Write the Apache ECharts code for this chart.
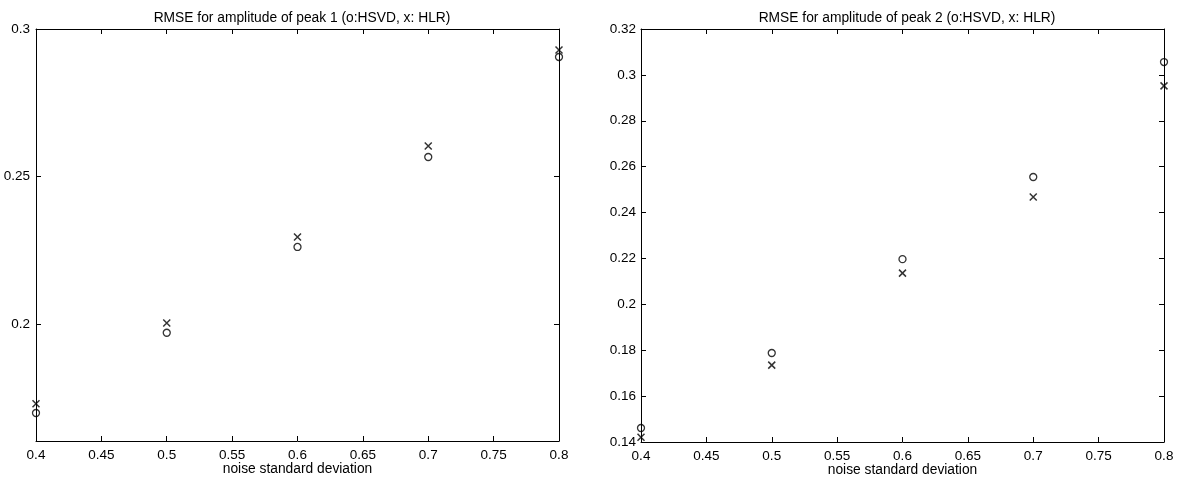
<!DOCTYPE html>
<html><head><meta charset="utf-8">
<script src="https://cdn.jsdelivr.net/npm/echarts@6/dist/echarts.min.js"></script>
<style>html,body{margin:0;padding:0;background:#fff}#c{width:1185px;height:478px}</style>
</head><body><div id="c"></div>
<script>
const noiseLevels = [0.4, 0.5, 0.6, 0.7, 0.8];
const peak1HSVD = [0.1698, 0.1970, 0.2261, 0.2566, 0.2905];
const peak1HLR  = [0.1729, 0.2003, 0.2295, 0.2603, 0.2929];
const peak2HSVD = [0.1461, 0.1788, 0.2197, 0.2555, 0.3056];
const peak2HLR  = [0.1421, 0.1735, 0.2136, 0.2468, 0.2952];
const xTicks = [0.4, 0.45, 0.5, 0.55, 0.6, 0.65, 0.7, 0.75, 0.8];
const yTicksLeft = [0.2, 0.25, 0.3];
const titles = ['RMSE for amplitude of peak 1 (o:HSVD, x: HLR)', 'RMSE for amplitude of peak 2 (o:HSVD, x: HLR)'];
const xName = 'noise standard deviation';

const FONT = 'Liberation Sans';
const lab = {color:'#000', fontFamily:FONT, fontSize:13.5};
const nameStyle = {color:'#000', fontFamily:FONT, fontSize:13.8};
const line = {show:true, lineStyle:{color:'#000', width:1}};
const tick = {show:true, inside:true, length:5, lineStyle:{color:'#000', width:1}};
const crossPath = 'path://M0,0L10,10M10,0L0,10';

function pairs(xs, ys){ return xs.map((x,i)=>[x, ys[i]]); }

function xAxes(gi){
  return [
    {gridIndex:gi, type:'value', min:0.4, max:0.8, interval:0.05, position:'bottom',
     axisLine:line, axisTick:Object.assign({customValues:xTicks}, tick), splitLine:{show:false},
     axisLabel:Object.assign({margin:7, customValues:xTicks, formatter:v=>String(+v.toFixed(2))}, lab),
     name:xName, nameLocation:'middle', nameGap:21, nameMoveOverlap:false, nameTextStyle:nameStyle},
    {gridIndex:gi, type:'value', min:0.4, max:0.8, interval:0.05, position:'top',
     axisLine:line, axisTick:Object.assign({customValues:xTicks}, tick), splitLine:{show:false}, axisLabel:{show:false}}
  ];
}

const circleStyle = {color:'transparent', borderColor:'#000', borderWidth:1.3};
const crossStyle = {color:'none', borderColor:'#000', borderWidth:1.5};

const option = {
  animation:false,
  backgroundColor:'#fff',
  title:[
    {text:titles[0], left:297, top:6, textAlign:'center', textStyle:{color:'#000', fontFamily:FONT, fontSize:13.8, fontWeight:'normal'}},
    {text:titles[1], left:902, top:6, textAlign:'center', textStyle:{color:'#000', fontFamily:FONT, fontSize:13.8, fontWeight:'normal'}}
  ],
  grid:[
    {left:36, right:626, top:29, bottom:37, containLabel:false, outerBoundsMode:'none'},
    {left:641, right:21, top:29, bottom:36, containLabel:false, outerBoundsMode:'none'}
  ],
  xAxis: xAxes(0).concat(xAxes(1)),
  yAxis:[
    {gridIndex:0, type:'value', min:0.1603, max:0.3, position:'left',
     axisLine:line, axisTick:Object.assign({customValues:yTicksLeft}, tick), splitLine:{show:false},
     axisLabel:Object.assign({customValues:yTicksLeft, margin:6}, lab)},
    {gridIndex:0, type:'value', min:0.1603, max:0.3, position:'right',
     axisLine:line, axisTick:Object.assign({customValues:yTicksLeft}, tick), splitLine:{show:false}, axisLabel:{show:false}},
    {gridIndex:1, type:'value', min:0.14, max:0.32, interval:0.02, position:'left',
     axisLine:line, axisTick:tick, splitLine:{show:false},
     axisLabel:Object.assign({margin:5, formatter:v=>String(+v.toFixed(2))}, lab)},
    {gridIndex:1, type:'value', min:0.14, max:0.32, interval:0.02, position:'right',
     axisLine:line, axisTick:tick, splitLine:{show:false}, axisLabel:{show:false}}
  ],
  series:[
    {type:'scatter', xAxisIndex:0, yAxisIndex:0, data:pairs(noiseLevels, peak1HSVD), symbol:'circle', symbolSize:7,
     itemStyle:circleStyle, clip:false, z:5},
    {type:'scatter', xAxisIndex:0, yAxisIndex:0, data:pairs(noiseLevels, peak1HLR), symbol:crossPath, symbolSize:7,
     itemStyle:crossStyle, clip:false, z:5},
    {type:'scatter', xAxisIndex:2, yAxisIndex:2, data:pairs(noiseLevels, peak2HSVD), symbol:'circle', symbolSize:7,
     itemStyle:circleStyle, clip:false, z:5},
    {type:'scatter', xAxisIndex:2, yAxisIndex:2, data:pairs(noiseLevels, peak2HLR), symbol:crossPath, symbolSize:7,
     itemStyle:crossStyle, clip:false, z:5}
  ]
};
const chart = echarts.init(document.getElementById('c'), null, {renderer:'canvas'});
chart.setOption(option);
</script></body></html>
